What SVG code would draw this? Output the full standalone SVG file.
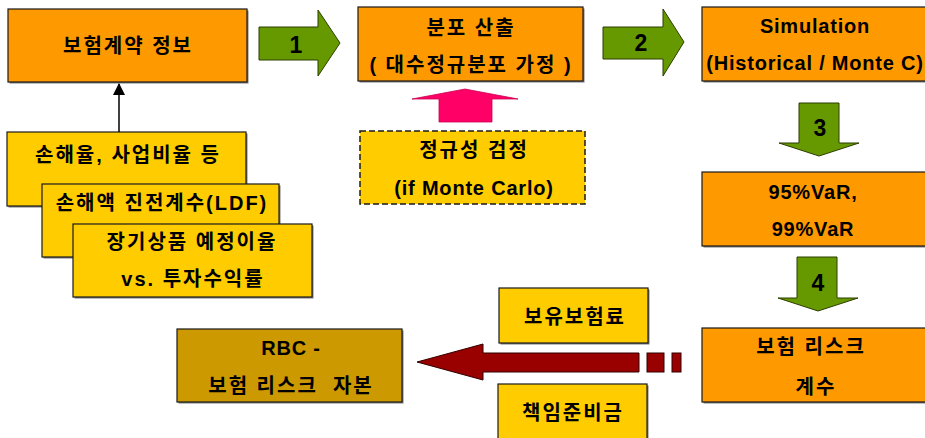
<svg xmlns="http://www.w3.org/2000/svg" width="925" height="438" viewBox="0 0 925 438">
<defs>
<style>
.bx{stroke:#1a1a1a;stroke-width:1.2}
.sh{fill:#7a7a7a}
.or{fill:#FF9900}
.ye{fill:#FFCC00}
.go{fill:#CC9900}
.t{font-family:"Liberation Sans","Noto Sans CJK KR",sans-serif;font-weight:bold;font-size:20px;letter-spacing:0.8px;fill:#000;text-anchor:middle;white-space:pre}
.k{letter-spacing:2px}
.n{font-family:"Liberation Sans",sans-serif;font-weight:bold;font-size:23px;fill:#000;text-anchor:middle}
.ga{fill:#669900;stroke:#2d3d00;stroke-width:1}
</style>
<marker id="ah" viewBox="0 0 12 12" refX="11" refY="6" markerWidth="12" markerHeight="12" markerUnits="userSpaceOnUse" orient="auto">
<path d="M0,0 L12,6 L0,12 Z" fill="#000"/>
</marker>
</defs>
<rect width="925" height="438" fill="#fff"/>

<g id="n-contract">
<rect class="sh" x="9.5" y="10.5" width="239" height="73"/>
<rect class="bx or" x="8" y="9" width="239" height="73"/>
<text class="t k" x="128" y="53">보험계약 정보</text>
</g>

<g id="n-dist">
<rect class="sh" x="359.5" y="8.5" width="225" height="74"/>
<rect class="bx or" x="358" y="7" width="225" height="74"/>
<text class="t k" x="471" y="35">분포 산출</text>
<text class="t k" x="471" y="72">( 대수정규분포 가정 )</text>
</g>

<g id="n-normtest">
<rect x="360" y="131" width="225" height="73" fill="#FFCC00" stroke="#1a1a1a" stroke-width="1.5" stroke-dasharray="6,3"/>
<text class="t k" x="474" y="157">정규성 검정</text>
<text class="t" x="474" y="195">(if Monte Carlo)</text>
</g>

<g id="n-sim">
<rect class="sh" x="703.5" y="8.5" width="230" height="74"/>
<rect class="bx or" x="702" y="7" width="230" height="74"/>
<text class="t" x="815" y="33">Simulation</text>
<text class="t" x="815" y="70">(Historical / Monte C)</text>
</g>

<g id="n-var">
<rect class="sh" x="703.5" y="173.5" width="230" height="74"/>
<rect class="bx or" x="702" y="172" width="230" height="74"/>
<text class="t" x="813" y="199">95%VaR,</text>
<text class="t" x="813" y="236">99%VaR</text>
</g>

<g id="n-riskfactor">
<rect class="sh" x="703.5" y="329.5" width="230" height="74"/>
<rect class="bx or" x="702" y="328" width="230" height="74"/>
<text class="t k" x="811" y="354">보험 리스크</text>
<text class="t k" x="816" y="394">계수</text>
</g>

<g id="n-rbc">
<rect class="sh" x="178.5" y="330.5" width="225" height="73"/>
<rect class="bx go" x="177" y="329" width="225" height="73"/>
<text class="t" x="291" y="355">RBC -</text>
<text class="t k" x="291" y="393">보험 리스크  자본</text>
</g>

<g id="n-lossratio">
<rect class="sh" x="8.5" y="133.5" width="239" height="74"/>
<rect class="bx ye" x="7" y="132" width="239" height="74"/>
<text class="t k" x="128" y="162">손해율, 사업비율 등</text>
</g>

<g id="n-ldf">
<rect class="sh" x="43.5" y="185.5" width="237" height="73"/>
<rect class="bx ye" x="42" y="184" width="237" height="73"/>
<text class="t k" x="162" y="210">손해액 진전계수(LDF)</text>
</g>

<g id="n-longterm">
<rect class="sh" x="74.5" y="225.5" width="239" height="73"/>
<rect class="bx ye" x="73" y="224" width="239" height="73"/>
<text class="t k" x="192" y="249">장기상품 예정이율</text>
<text class="t k" x="193" y="286">vs. 투자수익률</text>
</g>

<g id="n-premium">
<rect class="sh" x="500.5" y="289.5" width="149" height="55"/>
<rect class="bx ye" x="499" y="288" width="149" height="55"/>
<text class="t k" x="575" y="324">보유보험료</text>
</g>

<g id="n-reserve">
<rect class="sh" x="499.5" y="385.5" width="149" height="60"/>
<rect class="bx ye" x="498" y="384" width="149" height="60"/>
<text class="t k" x="573" y="420">책임준비금</text>
</g>

<g id="connectors">
<line x1="119" y1="132" x2="119" y2="84" stroke="#000" stroke-width="1.5" marker-end="url(#ah)"/>
<polygon class="ga" points="259,27 318,27 318,10 340,43 318,76 318,60 259,60"/>
<text class="n" x="296" y="53">1</text>
<polygon class="ga" points="603,27 663,27 663,9 684,42 663,76 663,59 603,59"/>
<text class="n" x="641" y="51">2</text>
<polygon class="ga" points="799,103 839,103 839,143 859,143 819,156 779,143 799,143"/>
<text class="n" x="820" y="136">3</text>
<polygon class="ga" points="797,257 837,257 837,298 858,298 818,311 778,298 797,298"/>
<text class="n" x="818" y="291">4</text>
<polygon points="439,122 439,99 412,99 465,89 518,99 492,99 492,122" fill="#FF0066" stroke="#cc0052" stroke-width="0.8"/>
<g fill="#990000" stroke="#330000" stroke-width="1">
<polygon points="417,362 483,344 483,353 639,353 639,372 483,372 483,380"/>
<rect x="647" y="353" width="17" height="19"/>
<rect x="672" y="353" width="9" height="19"/>
</g>
</g>
</svg>
